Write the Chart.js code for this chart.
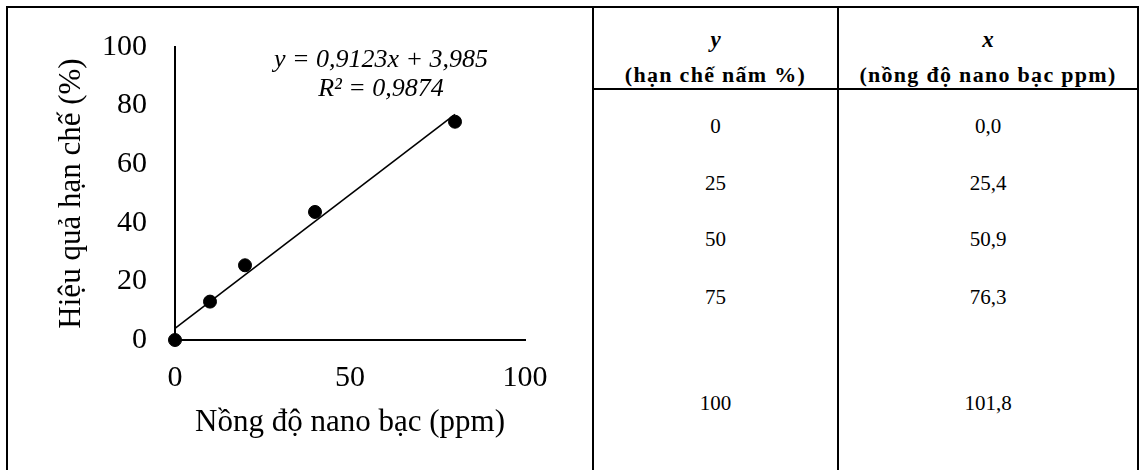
<!DOCTYPE html>
<html>
<head>
<meta charset="utf-8">
<script src="https://cdn.jsdelivr.net/npm/chart.js@4/dist/chart.umd.min.js"></script>
<style>
  html, body { margin: 0; padding: 0; background: #fff; overflow: hidden; }
  body { width: 1143px; height: 470px; position: relative; font-family: "Liberation Serif", serif; color: #000; }
  #frame { position: absolute; left: 6px; top: 6px; width: 1133px; height: 480px; border: 2px solid #000; box-sizing: border-box; }
  .vline { position: absolute; top: 6px; width: 2px; height: 480px; background: #000; }
  .hline { position: absolute; height: 2px; background: #000; }
  #chartBox { position: absolute; left: 8px; top: 8px; width: 584px; height: 462px; }
  #chartBox canvas { display: block; }
  .cell { position: absolute; text-align: center; line-height: 30px; height: 30px; white-space: nowrap; }
  .c1 { left: 594px; width: 243px; }
  .c2 { left: 839px; width: 298px; }
  .head { font-weight: bold; font-size: 22px; letter-spacing: 1.3px; }
  .headvar { font-weight: bold; font-style: italic; font-size: 23px; }
  .body { font-size: 21px; }
</style>
</head>
<body>
<div id="frame"></div>
<div class="vline" style="left:592px"></div>
<div class="vline" style="left:837px"></div>
<div class="hline" style="left:592px; width:547px; top:88px"></div>
<div id="chartBox"><canvas id="c" width="584" height="462"></canvas></div>
<div id="table"></div>
<script>
// ---- data ----
const concentration = [0, 10, 20, 40, 80];          // Nồng độ nano bạc (ppm)
const efficiency    = [0, 13.1, 25.5, 43.7, 74.5];  // Hiệu quả hạn chế (%)
const trendX = [0, 80];                             // trendline ends
const trendY = [3.985, 76.969];                     // y = 0,9123x + 3,985 at the ends
const xTicks = [0, 50, 100];
const yTicks = [0, 20, 40, 60, 80, 100];
const equationLines = ['y = 0,9123x + 3,985', 'R\u00B2 = 0,9874'];
const xTitle = 'Nồng độ nano bạc (ppm)';
const yTitle = 'Hiệu quả hạn chế (%)';

const tableHeadVar = ['y', 'x'];
const tableHeadText = ['(hạn chế nấm %)', '(nồng độ nano bạc ppm)'];
const tableY = [0, 25, 50, 75, 100];
const tableX = [0.0, 25.4, 50.9, 76.3, 101.8];

// ---- table (layout) ----
const rowCenters = [125.5, 182.5, 238.5, 297, 403];
const table = document.getElementById('table');
function addCell(cls, centerY, text) {
  const d = document.createElement('div');
  d.className = 'cell ' + cls;
  d.style.top = (centerY - 15) + 'px';
  d.textContent = text;
  table.appendChild(d);
}
addCell('c1 headvar', 40, tableHeadVar[0]);
addCell('c2 headvar', 40, tableHeadVar[1]);
addCell('c1 head', 75, tableHeadText[0]);
addCell('c2 head', 75, tableHeadText[1]);
tableY.forEach((v, i) => addCell('c1 body', rowCenters[i], String(v)));
tableX.forEach((v, i) => addCell('c2 body', rowCenters[i], v.toFixed(1).replace('.', ',')));

// ---- chart ----
const serif = "'Liberation Serif', 'Times New Roman', serif";
const equationPlugin = {
  id: 'equation',
  afterDatasetsDraw(chart) {
    const { ctx, chartArea } = chart;
    ctx.save();
    ctx.font = 'italic 26px ' + serif;
    ctx.fillStyle = '#000';
    ctx.textAlign = 'center';
    ctx.textBaseline = 'middle';
    const cx = chartArea.left + 206;
    ctx.fillText(equationLines[0], cx, chartArea.top + 13);
    ctx.fillText(equationLines[1], cx, chartArea.top + 42);
    ctx.restore();
  }
};
function noPad(axis) {
  axis.paddingTop = 0; axis.paddingBottom = 0; axis.paddingLeft = 0; axis.paddingRight = 0;
}

new Chart(document.getElementById('c'), {
  type: 'scatter',
  data: {
    datasets: [
      {
        label: 'data',
        data: concentration.map((x, i) => ({ x: x, y: efficiency[i] })),
        backgroundColor: '#000',
        borderColor: '#000',
        pointRadius: 6.5,
        pointHoverRadius: 6.5,
        showLine: false,
        clip: false
      },
      {
        type: 'line',
        label: 'trend',
        data: trendX.map((x, i) => ({ x: x, y: trendY[i] })),
        borderColor: '#000',
        borderWidth: 1.6,
        pointRadius: 0,
        fill: false,
        tension: 0,
        clip: false
      }
    ]
  },
  options: {
    responsive: false,
    animation: false,
    devicePixelRatio: 1,
    layout: { padding: { left: 45, top: 39, right: 67, bottom: 29 } },
    plugins: { legend: { display: false }, tooltip: { enabled: false } },
    scales: {
      x: {
        type: 'linear',
        min: 0, max: 100,
        afterBuildTicks: (axis) => { axis.ticks = xTicks.map(v => ({ value: v })); },
        afterFit: (axis) => { axis.height = 101; noPad(axis); },
        grid: { display: false, drawTicks: false },
        border: { display: true, color: '#000', width: 2 },
        ticks: { color: '#000', padding: 20, font: { family: serif, size: 30 }, maxRotation: 0 },
        title: { display: true, text: xTitle, color: '#000', padding: 0, font: { family: serif, size: 31 } }
      },
      y: {
        type: 'linear',
        min: 0, max: 100,
        afterBuildTicks: (axis) => { axis.ticks = yTicks.map(v => ({ value: v })); },
        afterFit: (axis) => { axis.width = 122; noPad(axis); },
        grid: { display: false, drawTicks: false },
        border: { display: true, color: '#000', width: 2 },
        ticks: { color: '#000', padding: 28, font: { family: serif, size: 30 } },
        title: { display: true, text: yTitle, color: '#000', padding: 0, font: { family: serif, size: 31 } }
      }
    }
  },
  plugins: [equationPlugin]
});
</script>
</body>
</html>
